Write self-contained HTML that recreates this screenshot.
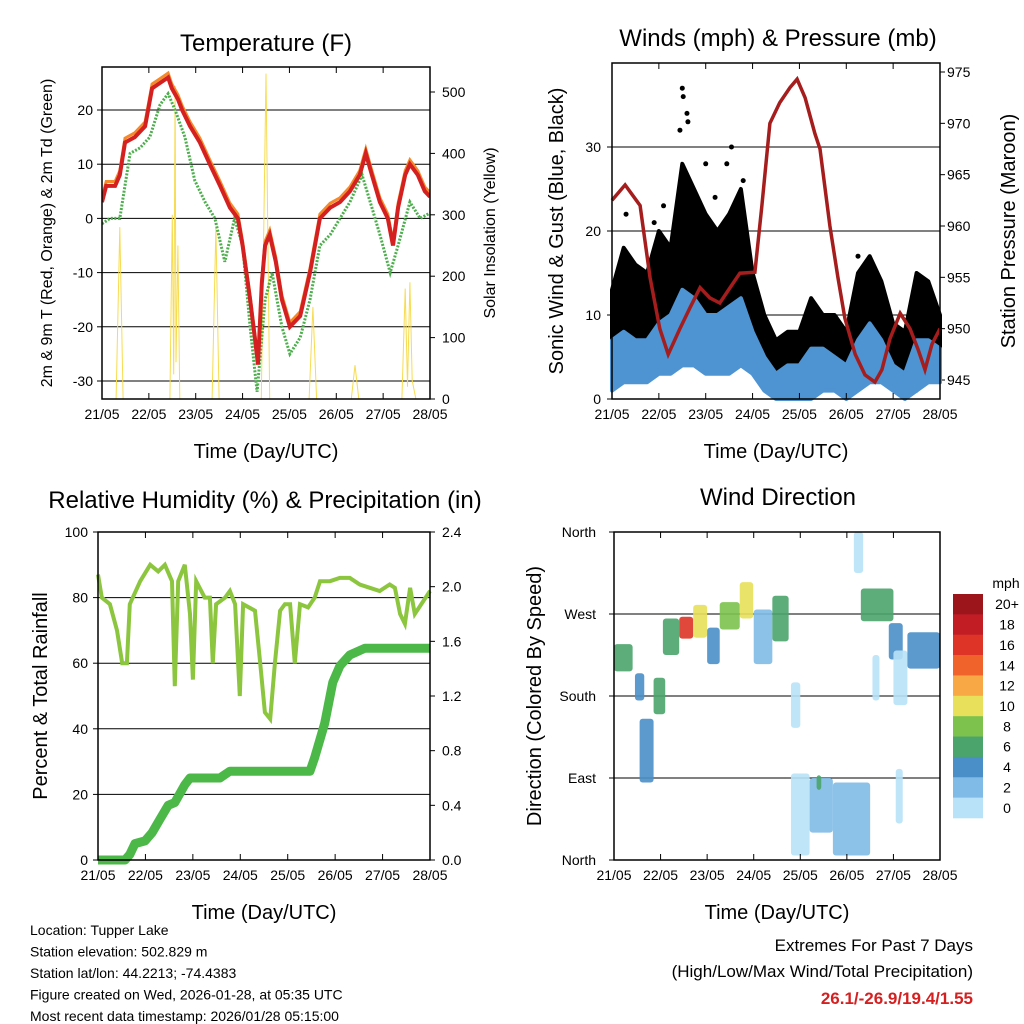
<!DOCTYPE html>
<html><head><meta charset="utf-8"><style>
body{margin:0;background:#fff}
svg{display:block;font-family:"Liberation Sans",Arial,sans-serif}
</style></head><body>
<svg id="c" width="1024" height="1024" viewBox="0 0 1024 1024">
<rect width="1024" height="1024" fill="#fff"/>
</svg>
<script>
// ---------- data ----------
const dayLabels = ["21/05","22/05","23/05","24/05","25/05","26/05","27/05","28/05"];
// Temperature panel
const tempTimes = [0,0.09,0.28,0.38,0.49,0.7,0.92,1.07,1.24,1.41,1.49,1.62,1.71,1.88,2.09,2.3,2.52,2.73,2.9,3.0,3.16,3.26,3.33,3.41,3.48,3.58,3.71,3.84,4.01,4.23,4.44,4.65,4.87,5.08,5.29,5.5,5.63,5.76,5.93,6.1,6.21,6.32,6.47,6.57,6.74,6.89,7];
const tempValues = [3,6,6,8,14,15,17,24,25,26,24,22,20,17,14,10,6,2,0,-5,-15,-22,-27,-12,-5,-3,-8,-15,-20,-18,-10,0,2,3,5,8,12,8,3,0,-5,2,8,10,8,5,4];
const dewTimes = [0,0.17,0.38,0.6,0.81,1.02,1.24,1.41,1.56,1.77,1.98,2.2,2.41,2.62,2.83,3.0,3.16,3.31,3.48,3.63,3.84,4.01,4.23,4.44,4.65,4.87,5.08,5.29,5.55,5.76,5.93,6.15,6.32,6.57,6.79,7];
const dewValues = [-1,0,0,12,13,15,21,23,20,15,7,3,0,-8,0,-5,-20,-32,-15,-10,-20,-25,-22,-15,-5,-3,0,3,8,2,-3,-10,-5,3,0,1];
const solarTimes = [0,0.3,0.38,0.45,1.45,1.5,1.53,1.56,1.58,1.62,1.66,2.35,2.43,2.5,3.4,3.5,3.58,4.42,4.5,4.58,5.32,5.4,5.48,6.4,6.47,6.52,6.57,6.62,6.7,7];
const solarValues = [0,0,280,0,0,300,40,510,60,250,0,0,280,0,0,530,0,0,150,0,0,55,0,0,180,20,190,30,0,0];
// Winds panel
const windTimes = [0,0.25,0.5,0.75,1,1.25,1.5,1.75,2,2.25,2.5,2.75,3,3.25,3.5,3.75,4,4.25,4.5,4.75,5,5.25,5.5,5.75,6,6.25,6.5,6.75,7];
const gustLow = [4,6,6,6,7,8,9,9,8,8,8,9,8,5,2,1,1,2,3,3,3,3,4,5,4,2,1,4,4];
const gustHigh = [13,18,16,15,20,18,28,25,22,20,22,25,15,10,7,8,8,12,10,10,8,15,17,14,9,8,15,14,10];
const windLow = [1,2,2,2,3,3,4,4,3,3,3,4,3,1,0,0,0,0,1,1,0,1,2,2,1,0,1,2,2];
const windHigh = [7,8,7,7,9,10,13,12,10,10,11,12,8,5,3,4,4,6,6,5,4,7,9,7,4,3,7,7,6];
const gustDotTimes = [1.5,1.52,1.6,1.62,1.45,2.0,2.45,2.55,2.8,0.3,1.1,5.25,0.9,2.2];
const gustDotValues = [37,36,34,33,32,28,28,30,26,22,23,17,21,24];
const presTimes = [0,0.28,0.6,0.81,1.02,1.2,1.45,1.66,1.88,2.09,2.3,2.52,2.73,3.05,3.2,3.37,3.58,3.8,3.95,4.12,4.33,4.44,4.65,4.82,4.97,5.19,5.4,5.61,5.76,5.93,6.15,6.36,6.53,6.68,6.83,7];
const presValues = [962.5,964,962,955,950,947.5,950,952,954,953,952.5,954,955.4,955.5,962,970,972,973.5,974.3,972.5,969,967.5,960,955,951,947.5,945.5,944.8,946,949,951.5,950,948,946,948.5,950];
// RH / precip panel
const rhTimes = [0,0.08,0.25,0.4,0.51,0.61,0.67,0.89,1.1,1.27,1.41,1.56,1.62,1.69,1.83,1.94,2.0,2.07,2.25,2.36,2.42,2.49,2.68,2.78,2.89,2.99,3.06,3.31,3.42,3.52,3.63,3.73,3.84,3.94,4.05,4.15,4.26,4.43,4.57,4.68,4.89,5.1,5.31,5.52,5.73,5.94,6.15,6.26,6.37,6.47,6.58,6.68,7];
const rhValues = [87,80,78,70,60,60,78,85,90,88,90,85,53,85,90,75,55,85,80,80,60,78,80,82,78,50,78,76,60,45,43,60,76,78,78,60,78,77,80,85,85,86,86,84,83,82,84,83,75,72,83,75,82];
const rainTimes = [0,0.57,0.67,0.78,0.99,1.14,1.31,1.48,1.62,1.83,1.94,2.57,2.78,4.47,4.57,4.78,4.95,5.1,5.31,5.63,7];
const rainValues = [0,0,0.04,0.12,0.14,0.2,0.3,0.4,0.42,0.55,0.6,0.6,0.65,0.65,0.75,1.0,1.3,1.42,1.5,1.55,1.55];
// Wind direction panel (clusters)
const dirStart = [0,0.45,0.55,0.85,1.05,1.4,1.7,2.0,2.27,2.7,3.0,3.4,3.8,4.2,4.35,4.7,5.15,5.3,5.9,6.0,6.05,6.3,3.8,5.55];
const dirEnd   = [0.4,0.65,0.85,1.1,1.4,1.7,2.0,2.27,2.7,2.99,3.4,3.75,4.2,4.7,4.45,5.5,5.35,6.0,6.2,6.3,6.2,7.0,4.0,5.7];
const dirCenter = [222,190,120,180,245,255,262,235,268,285,245,265,50,60,85,45,340,280,240,200,70,230,170,200];
const dirSpread = [15,15,35,20,20,12,18,20,15,20,30,25,45,30,8,40,25,18,20,30,30,20,25,25];
const dirSpeed = [6,5,4,6,7,17,11,4,8,10,3,6,1,2,6,2,1,6,4,1,1,5,1,1];
const speedLabels = ["20+","18","16","14","12","10","8","6","4","2","0"];
const speedColors = ["#9b151b","#c21d25","#de3427","#f0632a","#f8a945","#e8e05a","#7cc24d","#4aa46c","#4a8fc8","#7fbbe6","#b8e2f8"];

// ---------- helpers ----------
const NS="http://www.w3.org/2000/svg";
const svg=document.getElementById('c');
function mk(tag,attrs,parent){const e=document.createElementNS(NS,tag);for(const k in attrs)e.setAttribute(k,attrs[k]);(parent||svg).appendChild(e);return e;}
function txt(s,x,y,size,anchor,parent,extra){const t=mk('text',Object.assign({x:x,y:y,'font-size':size,'text-anchor':anchor||'middle',fill:'#000'},extra||{}),parent);t.textContent=s;return t;}
function lin(d0,d1,r0,r1){return v=>r0+(v-d0)/(d1-d0)*(r1-r0);}
function pathFrom(xs,ys,fx,fy){return xs.map((t,i)=>(i?'L':'M')+fx(t).toFixed(1)+','+fy(ys[i]).toFixed(1)).join(' ');}

function frame(g,x0,x1,y0,y1,yticks,fy,ylabels,labelX){
  yticks.forEach((v,i)=>{
    const gl=mk('line',{x1:x0,x2:x1,y1:fy(v),y2:fy(v),stroke:'#000','stroke-width':1},g);
    
    
    mk('line',{x1:x0-5,x2:x0,y1:fy(v),y2:fy(v),stroke:'#000'},g);
    const t=txt(ylabels[i],labelX,fy(v)+5,14,'end',g);
    
    
  });
}
function xaxis(g,x0,x1,y0,y1){
  const fx=lin(0,7,x0,x1);
  dayLabels.forEach((s,i)=>{
    mk('line',{x1:fx(i),x2:fx(i),y1:y1,y2:y1-6,stroke:'#000'},g);
    mk('line',{x1:fx(i),x2:fx(i),y1:y0,y2:y0+6,stroke:'#000'},g);
    const t=txt(s,fx(i),y1+20,14,'middle',g);
    
    
  });
  const t=txt('Time (Day/UTC)',(x0+x1)/2,y1+59,20,'middle',g);
  
  
}
function border(g,x0,x1,y0,y1){mk('rect',{x:x0,y:y0,width:x1-x0,height:y1-y0,fill:'none',stroke:'#000','stroke-width':1.5},g);}
function rotLabel(s,x,y,size,g,name){const t=txt(s,x,y,size,'middle',g,{transform:'rotate(-90 '+x+' '+y+')'});}

// ---------- Panel 1: Temperature ----------
(function(){
  const g=mk('g',{});
  
  
  const x0=102,x1=430,y0=67,y1=399;
  const fx=lin(0,7,x0,x1), fy=lin(20,-30,110,381), fs=lin(0,500,399,92);
  frame(g,x0,x1,y0,y1,[20,10,0,-10,-20,-30],fy,["20","10","0","-10","-20","-30"],93);
  [0,100,200,300,400,500].forEach(v=>{mk('line',{x1:x1,x2:x1+5,y1:fs(v),y2:fs(v),stroke:'#000'},g);const t=txt(String(v),x1+12,fs(v)+5,14,'start',g);});
  const cp=mk('clipPath',{id:'cp1'},g);mk('rect',{x:x0,y:y0,width:x1-x0,height:y1-y0},cp);
  const s=mk('path',{d:pathFrom(solarTimes,solarValues,fx,fs),fill:'none',stroke:'#f7dc50','stroke-width':1,'clip-path':'url(#cp1)'},g);
  
  const d=mk('path',{d:pathFrom(dewTimes,dewValues,fx,fy),fill:'none',stroke:'#4cae4c','stroke-width':3,'stroke-dasharray':'2 1.5','clip-path':'url(#cp1)'},g);
  
  const o=mk('path',{d:pathFrom(tempTimes,tempValues.map(v=>v+0.8),fx,fy),fill:'none',stroke:'#f48a2a','stroke-width':3,'clip-path':'url(#cp1)'},g);
  
  const r=mk('path',{d:pathFrom(tempTimes,tempValues,fx,fy),fill:'none',stroke:'#d42020','stroke-width':4,'clip-path':'url(#cp1)'},g);
  
  border(g,x0,x1,y0,y1);xaxis(g,x0,x1,y0,y1);
  const t=txt('Temperature (F)',266,51,24,'middle',g);
  rotLabel('2m & 9m T (Red, Orange) & 2m Td (Green)',52,233,16,g,'y-axis-title');
  rotLabel('Solar Insolation (Yellow)',495,233,16,g,'right-axis-title');
})();

// ---------- Panel 2: Winds ----------
(function(){
  const g=mk('g',{});
  
  
  const x0=612,x1=940,y0=63,y1=399;
  const fx=lin(0,7,x0,x1), fy=lin(0,30,399,147), fp=lin(945,975,380,72);
  frame(g,x0,x1,y0,y1,[0,10,20,30],fy,["0","10","20","30"],601);
  [945,950,955,960,965,970,975].forEach(v=>{mk('line',{x1:x1,x2:x1+5,y1:fp(v),y2:fp(v),stroke:'#000'},g);const t=txt(String(v),x1+7,fp(v)+5,14,'start',g);});
  function band(lo,hi,color,name){
    let d=windTimes.map((t,i)=>(i?'L':'M')+fx(t).toFixed(1)+','+fy(hi[i]).toFixed(1)).join(' ');
    for(let i=windTimes.length-1;i>=0;i--)d+=' L'+fx(windTimes[i]).toFixed(1)+','+fy(lo[i]).toFixed(1);
    const p=mk('path',{d:d+'Z',fill:color,stroke:color,'stroke-width':4,'stroke-linejoin':'round'},g);
    
  }
  band(gustLow,gustHigh,'#000','gust-band');
  gustDotTimes.forEach((t,i)=>{const c=mk('circle',{cx:fx(t),cy:fy(gustDotValues[i]),r:2.5,fill:'#000'},g);});
  band(windLow,windHigh,'#4e93d2','wind-band');
  const p=mk('path',{d:pathFrom(presTimes,presValues,fx,fp),fill:'none',stroke:'#a51d1d','stroke-width':3.5},g);
  
  border(g,x0,x1,y0,y1);xaxis(g,x0,x1,y0,y1);
  const t=txt('Winds (mph) & Pressure (mb)',778,46,24,'middle',g);
  rotLabel('Sonic Wind & Gust (Blue, Black)',563,231,20,g,'y-axis-title');
  rotLabel('Station Pressure (Maroon)',1015,231,20,g,'right-axis-title');
})();

// ---------- Panel 3: RH & Precip ----------
(function(){
  const g=mk('g',{});
  
  
  const x0=98,x1=430,y0=532,y1=860;
  const fx=lin(0,7,x0,x1), fy=lin(0,100,860,532), fr=lin(0,2.4,860,532);
  frame(g,x0,x1,y0,y1,[0,20,40,60,80,100],fy,["0","20","40","60","80","100"],88);
  [0,0.4,0.8,1.2,1.6,2.0,2.4].forEach(v=>{mk('line',{x1:x1,x2:x1+5,y1:fr(v),y2:fr(v),stroke:'#000'},g);const t=txt(v.toFixed(1),x1+12,fr(v)+5,14,'start',g);});
  const h=mk('path',{d:pathFrom(rhTimes,rhValues,fx,fy),fill:'none',stroke:'#8cc63f','stroke-width':4},g);
  
  const r=mk('path',{d:pathFrom(rainTimes,rainValues,fx,fr),fill:'none',stroke:'#4cb848','stroke-width':9,'stroke-linejoin':'round'},g);
  
  border(g,x0,x1,y0,y1);xaxis(g,x0,x1,y0,y1);
  const t=txt('Relative Humidity (%) & Precipitation (in)',265,508,24,'middle',g);
  rotLabel('Percent & Total Rainfall',47,696,20,g,'y-axis-title');
})();

// ---------- Panel 4: Wind direction ----------
(function(){
  const g=mk('g',{});
  
  
  const x0=614,x1=940,y0=532,y1=860;
  const fx=lin(0,7,x0,x1), fy=lin(0,360,860,532);
  frame(g,x0,x1,y0,y1,[0,90,180,270,360],fy,["North","East","South","West","North"],596);
  function colorFor(s){const idx=Math.min(10,Math.floor(s/2));return speedColors[10-idx];}
  dirStart.forEach((t,i)=>{
    const xa=fx(t),xb=fx(dirEnd[i]);
    const ya=fy(Math.min(360,dirCenter[i]+dirSpread[i])),yb=fy(Math.max(0,dirCenter[i]-dirSpread[i]));
    const rc=mk('rect',{x:xa,y:ya,width:Math.max(4,xb-xa),height:Math.max(4,yb-ya),rx:3,fill:colorFor(dirSpeed[i]),opacity:0.9},g);
    
    
  });
  border(g,x0,x1,y0,y1);xaxis(g,x0,x1,y0,y1);
  const t=txt('Wind Direction',778,505,24,'middle',g);
  rotLabel('Direction (Colored By Speed)',541,696,20,g,'y-axis-title');
  // colorbar
  const cb=mk('g',{},g);
  
  
  const bh=(818-594)/11;
  speedColors.forEach((c,i)=>{
    const r=mk('rect',{x:953,y:594+i*bh,width:30,height:bh+0.3,fill:c},cb);
    
    const l=txt(speedLabels[i],1007,594+i*bh+bh/2+5,14,'middle',cb);
    
  });
  const m=txt('mph',1006,588,14,'middle',cb);
})();

// ---------- footer text ----------
(function(){
  const lines=["Location: Tupper Lake","Station elevation: 502.829 m","Station lat/lon: 44.2213; -74.4383","Figure created on Wed, 2026-01-28, at 05:35 UTC","Most recent data timestamp: 2026/01/28 05:15:00"];
  lines.forEach((s,i)=>{const t=txt(s,30,935+i*21.5,14,'start');});
  let t=txt('Extremes For Past 7 Days',973,951,17,'end');
  t=txt('(High/Low/Max Wind/Total Precipitation)',973,977,17,'end');
  t=txt('26.1/-26.9/19.4/1.55',973,1004,17,'end',null,{fill:'#d42020','font-weight':'bold'});
})();
</script>
</body></html>
